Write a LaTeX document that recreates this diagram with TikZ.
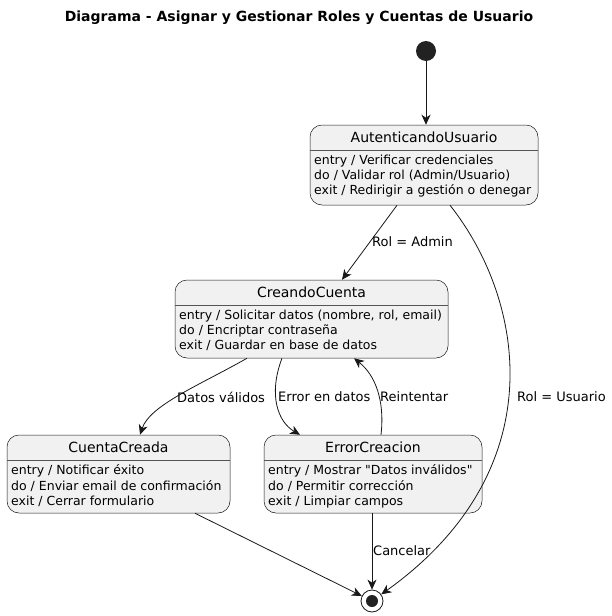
\documentclass[tikz,border=0pt]{standalone}
\usepackage{fontspec}
\setmainfont{DejaVu Sans}[Ligatures=TeXOff]
\usetikzlibrary{arrows.meta,calc}
\definecolor{stfill}{HTML}{F1F1F1}
\definecolor{stline}{HTML}{181818}
\definecolor{sepline}{HTML}{555555}
\definecolor{dot}{HTML}{222222}
\tikzset{
  statebox/.style={draw=stline, fill=stfill, rounded corners=12pt, line width=0.5pt, inner sep=0pt},
  sepl/.style={draw=sepline, line width=0.4pt},
  sttitle/.style={font=\fontsize{14}{16}\selectfont, inner sep=0pt, anchor=center},
  stbody/.style={font=\fontsize{12.5}{15.3}\selectfont, align=left, inner sep=0pt, anchor=north west},
  arr/.style={draw=stline, line width=0.8pt, -{Stealth[length=10pt,width=9pt,inset=3pt]}},
  elabel/.style={font=\fontsize{13}{15}\selectfont, inner sep=0pt, anchor=west},
}
\begin{document}
\begin{tikzpicture}[x=1pt,y=-1pt]
\useasboundingbox (0,0) rectangle (612,616);
\node[font=\bfseries\fontsize{14}{16}\selectfont] (title) at (299,18) {Diagrama - Asignar y Gestionar Roles y Cuentas de Usuario};
% start
\node[circle, fill=dot, minimum size=20pt, inner sep=0pt] (S) at (426,51) {};
% end
\node[circle, draw=stline, line width=0.8pt, fill=white, minimum size=22pt, inner sep=0pt] (E) at (372,601) {};
\node[circle, fill=dot, minimum size=12pt, inner sep=0pt] (Ein) at (372,601) {};
% AutenticandoUsuario
\node[statebox, minimum width=228pt, minimum height=80pt] (A) at (424,165) {};
\draw[sepl] (310,150) -- (538,150);
\node[sttitle] (At) at (424,137.5) {AutenticandoUsuario};
\node[stbody] (Ab) at (314,154.5) {entry / Verificar credenciales\\do / Validar rol (Admin/Usuario)\\exit / Redirigir a gestión o denegar};
% CreandoCuenta
\node[statebox, minimum width=273pt, minimum height=78pt] (C) at (311.5,319) {};
\draw[sepl] (175,305) -- (448,305);
\node[sttitle] (Ct) at (311.5,292) {CreandoCuenta};
\node[stbody] (Cb) at (179,309.5) {entry / Solicitar datos (nombre, rol, email)\\do / Encriptar contraseña\\exit / Guardar en base de datos};
% CuentaCreada
\node[statebox, minimum width=223pt, minimum height=78pt] (K) at (118.5,474) {};
\draw[sepl] (7,460) -- (230,460);
\node[sttitle] (Kt) at (118.5,447) {CuentaCreada};
\node[stbody] (Kb) at (11,464.5) {entry / Notificar éxito\\do / Enviar email de confirmación\\exit / Cerrar formulario};
% ErrorCreacion
\node[statebox, minimum width=218pt, minimum height=78pt] (R) at (373,474) {};
\draw[sepl] (264,460) -- (482,460);
\node[sttitle] (Rt) at (373,447) {ErrorCreacion};
\node[stbody] (Rb) at (268,464.5) {entry / Mostrar "Datos inválidos"\\do / Permitir corrección\\exit / Limpiar campos};
% edges
\draw[arr] (S) -- (A.north -| S);
\draw[arr] ([xshift=-27pt]A.south) -- ([xshift=30.5pt]C.north);
\node[elabel] (l1) at (372,242) {Rol = Admin};
\draw[arr] ([xshift=26pt]A.south) .. controls (525,300) and (555,470) .. (E);
\node[elabel] (l2) at (517,397) {Rol = Usuario};
\draw[arr] ([xshift=-64.5pt]C.south) .. controls (200,385) and (150,405) .. ([xshift=21.5pt]K.north);
\node[elabel] (l3) at (177,397) {Datos válidos};
\draw[arr] ([xshift=-29.5pt]C.south) .. controls (268,395) and (278,422) .. ([xshift=-73pt]R.north);
\node[elabel] (l4) at (278,397) {Error en datos};
\draw[arr] ([xshift=8pt]R.north) .. controls (385,400) and (375,375) .. ([xshift=42.5pt]C.south);
\node[elabel] (l5) at (380,397) {Reintentar};
\draw[arr] ([xshift=76.5pt]K.south) -- (E);
\draw[arr] (R.south -| E) -- (E);
\node[elabel] (l6) at (373,551) {Cancelar};
\end{tikzpicture}
\end{document}
